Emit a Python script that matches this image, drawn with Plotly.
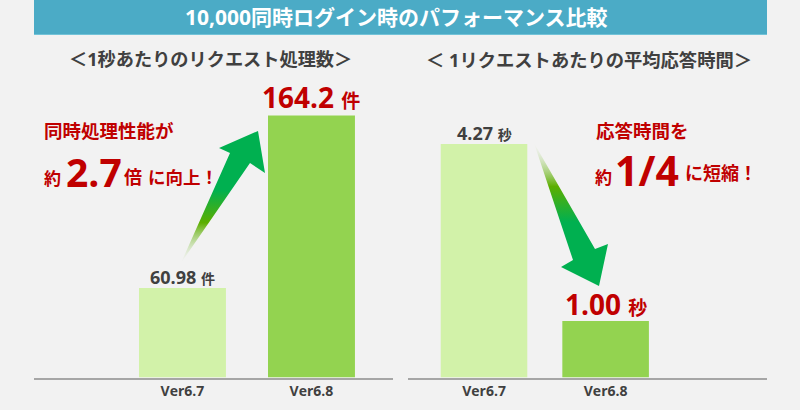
import plotly.graph_objects as go

# data
versions = ['Ver6.7', 'Ver6.8']
requests_per_sec = [60.98, 164.2]
response_time = [4.27, 1.00]
request_labels = ['60.98', '164.2']
response_labels = ['4.27', '1.00']

title = '10,000同時ログイン時のパフォーマンス比較'
left_title = '＜1秒あたりのリクエスト処理数＞'
right_title = '＜ 1リクエストあたりの平均応答時間＞'

FONT = 'Open Sans, Noto Sans CJK JP, sans-serif'
BG = '#f2f2f2'
LIGHT = '#d2f2a9'
DARK = '#93d350'
RED = '#c00000'
GRAY = '#404040'
ARROW = '#00b050'

W, H = 800, 410
BASE_Y = 377.5
TOP_Y = 60

# bars are not drawn to a zero baseline in the original
left_low = 7.4
left_scale = 1.671
right_low = -0.044
right_scale = 54.13


def px_x(v):
    return v / W


def px_y(v):
    return 1 - v / H


fig = go.Figure()

fig.add_trace(go.Bar(x=versions, y=[v - left_low for v in requests_per_sec], base=left_low, width=0.674,
                     marker=dict(color=[LIGHT, DARK], line_width=0), xaxis='x', yaxis='y', hoverinfo='skip'))
fig.add_trace(go.Bar(x=versions, y=[v - right_low for v in response_time], base=right_low, width=0.712,
                     marker=dict(color=[LIGHT, DARK], line_width=0), xaxis='x2', yaxis='y2', hoverinfo='skip'))


# the two big arrows fade out toward the tail, drawn on a full page overlay in pixels
def add_arrow(xs, ys, start, stop, scale):
    fig.add_trace(go.Scatter(x=xs, y=ys, mode='none', fill='toself', xaxis='x3', yaxis='y3', hoverinfo='skip',
                             fillgradient=dict(type='vertical', start=start, stop=stop, colorscale=scale)))


add_arrow([181, 230, 219, 258, 265, 250, 181], [263, 153, 148, 131, 173, 163, 263], 263, 190,
          [[0, 'rgba(242,242,242,0.2)'], [0.55, '#5cae00'], [1, ARROW]])
add_arrow([534, 573, 561, 599, 608, 595, 534], [143, 260, 267, 286, 244, 249, 143], 143, 222,
          [[0, 'rgba(242,242,242,0.2)'], [0.55, '#5cae00'], [1, ARROW]])


def text(x, y, s, size, color=GRAY, anchor='center'):
    fig.add_annotation(xref='x3', yref='y3', x=x, y=y, text='<b>' + s + '</b>', showarrow=False, xanchor=anchor,
                       yanchor='middle', font=dict(family=FONT, size=size, color=color))


def bar_label(xref, yref, x, y, label, unit, size, unit_size, color, shift=-3):
    s = '<b>%s <span style="font-size:%dpx">%s</span></b>' % (label, unit_size, unit)
    fig.add_annotation(xref=xref, yref=yref, x=x, y=y, text=s, showarrow=False, yanchor='bottom', yshift=shift,
                       font=dict(family=FONT, size=size, color=color))


text(396.5, 17, title, 21, 'white')
text(210.5, 59, left_title, 18.2)
text(589, 59, right_title, 18.3)

bar_label('x', 'y', versions[0], requests_per_sec[0], request_labels[0], '件', 18, 14, GRAY)
bar_label('x', 'y', versions[1], requests_per_sec[1], request_labels[1], '件', 28, 19, RED)
bar_label('x2', 'y2', versions[0], response_time[0], response_labels[0], '秒', 18, 14, GRAY)
bar_label('x2', 'y2', versions[1], response_time[1], response_labels[1], '秒', 28, 19, RED, -4)

text(42, 130, '同時処理性能が', 18.5, RED, 'left')
text(42, 178, '約', 17, RED, 'left')
text(64, 171, '2.7', 39, RED, 'left')
text(122, 177, '倍', 18, RED, 'left')
text(146, 177, 'に向上！', 17.5, RED, 'left')

text(594, 130, '応答時間を', 18.5, RED, 'left')
text(593, 177, '約', 17, RED, 'left')
text(613, 170, '1/4', 41, RED, 'left')
text(683, 173, 'に短縮！', 18, RED, 'left')

axis_style = dict(showline=True, linecolor='#a6a6a6', linewidth=1.5, showgrid=False, zeroline=False, ticks='',
                  fixedrange=True, tickfont=dict(family=FONT, size=14, color=GRAY))
y_style = dict(visible=False, fixedrange=True)

fig.update_layout(
    width=W, height=H, margin=dict(l=0, r=0, t=0, b=0), paper_bgcolor=BG, plot_bgcolor='rgba(0,0,0,0)',
    showlegend=False,
    shapes=[
        dict(type='rect', xref='paper', yref='paper', x0=px_x(34), x1=px_x(767), y0=px_y(34.5), y1=1,
             fillcolor='#4babc6', line_width=0, layer='below'),
        dict(type='line', xref='paper', yref='paper', x0=px_x(34), x1=px_x(767), y0=px_y(34.5), y1=px_y(34.5),
             line=dict(color='#72c3d8', width=1), layer='below'),
    ],
    xaxis=dict(domain=[px_x(34), px_x(393)], type='category', range=[-1.151, 1.632], anchor='y',
               tickvals=versions, ticktext=['<b>%s</b>' % v for v in versions], **axis_style),
    yaxis=dict(domain=[px_y(BASE_Y), px_y(TOP_Y)], anchor='x',
               range=[left_low, left_low + (BASE_Y - TOP_Y) / left_scale], **y_style),
    xaxis2=dict(domain=[px_x(408), px_x(767)], type='category', range=[-0.625, 2.327], anchor='y2',
                tickvals=versions, ticktext=['<b>%s</b>' % v for v in versions], **axis_style),
    yaxis2=dict(domain=[px_y(BASE_Y), px_y(TOP_Y)], anchor='x2',
                range=[right_low, right_low + (BASE_Y - TOP_Y) / right_scale], **y_style),
    xaxis3=dict(domain=[0, 1], range=[0, W], visible=False, anchor='y3', fixedrange=True),
    yaxis3=dict(domain=[0, 1], range=[H, 0], visible=False, anchor='x3', fixedrange=True),
)

fig.write_html('out.html', post_script="document.body.style.margin='0';", config=dict(displayModeBar=False))
